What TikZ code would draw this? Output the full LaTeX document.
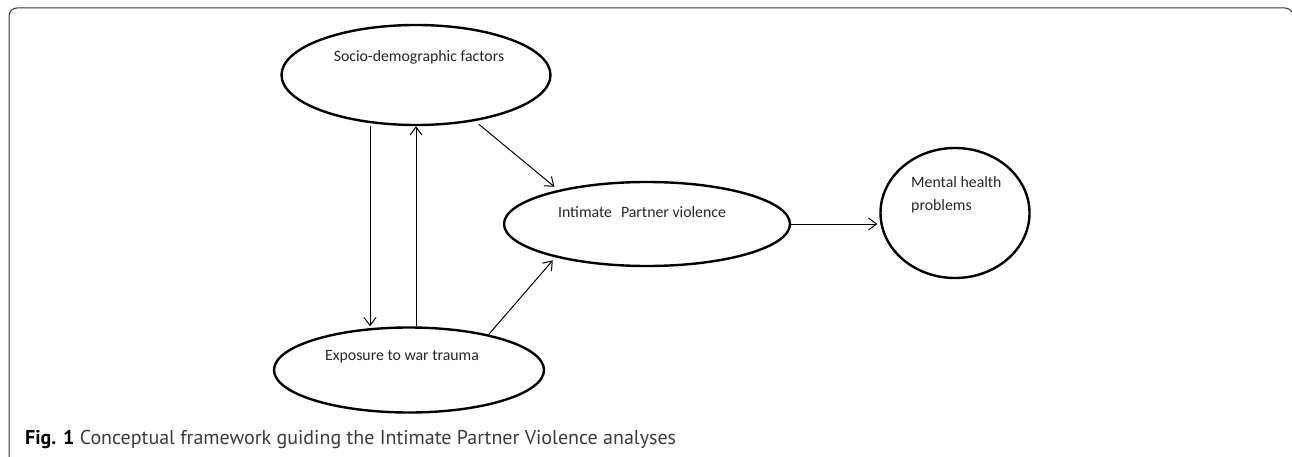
\documentclass[tikz,border=0pt]{standalone}
\usepackage{fontspec}
\setmainfont{Carlito}
\newfontfamily\capfont{PT Sans}
\usetikzlibrary{shapes.geometric,arrows.meta}
\definecolor{framegray}{HTML}{333333}
\definecolor{captext}{HTML}{3A3A3A}
\begin{document}
\begin{tikzpicture}[x=1pt,y=-1pt,
  oval/.style={draw=black,line width=2.4pt,ellipse,inner sep=0pt},
  lbl/.style={font=\fontsize{15.8}{19}\selectfont,text=black!85,inner sep=0pt},
  conn/.style={line width=1pt,-{Straight Barb[length=8pt,width=12pt,line width=1pt]}}
]
\useasboundingbox (0,0) rectangle (1292,457);
\begin{scope}
\clip (0,0) rectangle (1292,457);
\draw[framegray,line width=1pt,rounded corners=8pt] (9,480) -- (9,8) -- (1293,8) -- (1293,480);
\end{scope}
% ellipses
\node[oval,minimum width=269pt,minimum height=100pt] (sd) at (416,75) {};
\node[oval,minimum width=270pt,minimum height=85pt] (ewt) at (409,370) {};
\node[oval,minimum width=286pt,minimum height=84pt] (ipv) at (647,224) {};
\node[oval,minimum width=149pt,minimum height=130pt] (mh) at (955,213) {};
% labels
\node[lbl] (sdt) at (419,57) {Socio-demographic factors};
\node[lbl] (ewtt) at (402,357) {Exposure to war trauma};
\node[lbl] (ipvt) at (642,212) {Intimate\hspace{9pt}Partner violence};
\node[lbl,align=left,anchor=west,font=\fontsize{15.8}{23.5}\selectfont] (mht) at (911,195) {Mental health\\problems};
% connectors
\draw[conn] ([xshift=-46pt]sd.south) -- ([xshift=-46pt]sd.south |- ewt.north);
\draw[conn] (ewt.north -| sd.south) -- (sd.south);
\draw[conn,shorten <=5pt,shorten >=5pt] (sd.-38) -- (ipv.159.6);
\draw[conn,shorten >=4pt] (ewt.24) -- (ipv.200.1);
\draw[conn,shorten >=2pt] (ipv.east) -- (ipv.east -| mh.west);
% caption
\node[anchor=base west,inner sep=0pt,text=captext,font=\capfont\fontsize{20}{24}\selectfont] (cap) at (25,444) {\textcolor{black}{\textbf{Fig. 1}} Conceptual framework guiding the Intimate Partner Violence analyses};
\end{tikzpicture}
\end{document}
